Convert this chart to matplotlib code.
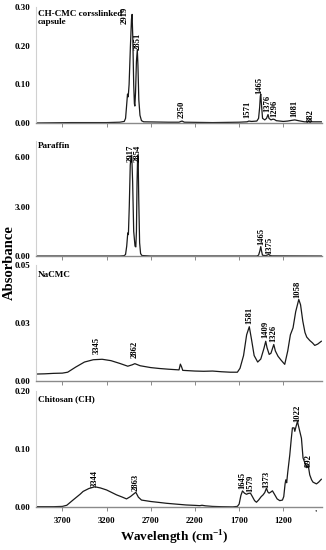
import matplotlib
matplotlib.use('Agg')
import numpy as np
import matplotlib.pyplot as plt

plt.rcParams['font.family'] = ['Liberation Serif', 'DejaVu Serif']
plt.rcParams['font.weight'] = 'bold'
plt.rcParams['mathtext.fontset'] = 'custom'
plt.rcParams['mathtext.rm'] = 'Liberation Serif:bold'
plt.rcParams['mathtext.bf'] = 'Liberation Serif:bold'

# CH-CMC crosslinked capsule
cap_w = [4000, 3600, 3200, 3050, 3000, 2985, 2975, 2963, 2955, 2945, 2930, 2918, 2911, 2903,
         2893, 2885, 2880, 2872, 2862, 2852, 2845, 2835, 2822, 2805, 2780, 2500, 2380, 2360,
         2345, 2320, 2000, 1700, 1610, 1590, 1560, 1500, 1480, 1468, 1460, 1455, 1448, 1435,
         1410, 1390, 1373, 1362, 1340, 1316, 1300, 1280, 1200, 1150, 1100, 1070, 1030, 960,
         920, 895, 870, 770]
cap_a = [0.000, 0.001, 0.001, 0.002, 0.004, 0.012, 0.040, 0.075, 0.068, 0.100, 0.200, 0.270,
         0.282, 0.220, 0.100, 0.050, 0.044, 0.080, 0.160, 0.190, 0.150, 0.060, 0.020, 0.006,
         0.003, 0.002, 0.002, 0.004, 0.005, 0.002, 0.001, 0.002, 0.003, 0.005, 0.004, 0.005,
         0.012, 0.040, 0.070, 0.075, 0.050, 0.012, 0.008, 0.012, 0.022, 0.012, 0.008, 0.010,
         0.009, 0.006, 0.004, 0.005, 0.007, 0.008, 0.006, 0.003, 0.003, 0.005, 0.003, 0.003]

# Paraffin
par_w = [4000, 3050, 3000, 2985, 2972, 2960, 2953, 2943, 2932, 2922, 2915, 2905, 2893, 2878,
         2869, 2862, 2855, 2848, 2843, 2836, 2826, 2815, 2800, 2700, 1500, 1480, 1466, 1455,
         1448, 1436, 1400, 1378, 1365, 1355, 1330, 770]
par_a = [0, 0, 0.02, 0.1, 0.6, 1.4, 1.3, 3.0, 5.5, 6.1, 6.1, 4.5, 1.5, 0.6, 0.55, 1.5, 4.5,
         6.1, 6.1, 3.5, 0.8, 0.15, 0.03, 0, 0, 0.05, 0.3, 0.57, 0.35, 0.05, 0.02, 0.06, 0.12,
         0.04, 0.01, 0]

# NaCMC
cmc_w = [4000, 3900, 3800, 3700, 3640, 3550, 3450, 3350, 3250, 3150, 3050, 2960, 2910, 2880,
         2820, 2700, 2600, 2500, 2380, 2365, 2352, 2338, 2200, 2100, 2000, 1900, 1800, 1720,
         1690, 1650, 1615, 1585, 1560, 1530, 1490, 1455, 1420, 1399, 1385, 1360, 1340, 1308,
         1290, 1260, 1225, 1184, 1150, 1120, 1090, 1060, 1025, 1005, 980, 955, 935, 900, 870,
         844, 810, 770]
cmc_a = [0.0030, 0.0031, 0.0033, 0.0034, 0.0038, 0.0060, 0.0082, 0.0092, 0.0094, 0.0088,
         0.0076, 0.0064, 0.0070, 0.0075, 0.0066, 0.0058, 0.0054, 0.0051, 0.0048, 0.0073,
         0.0062, 0.0046, 0.0043, 0.0042, 0.0043, 0.0040, 0.0038, 0.0038, 0.0055, 0.0110,
         0.0200, 0.0235, 0.0180, 0.0110, 0.0082, 0.0095, 0.0140, 0.0172, 0.0145, 0.0115,
         0.0120, 0.0158, 0.0130, 0.0107, 0.0090, 0.0072, 0.0130, 0.0200, 0.0230, 0.0300,
         0.0353, 0.0330, 0.0260, 0.0210, 0.0190, 0.0175, 0.0165, 0.0154, 0.0160, 0.0172]

# Chitosan
chi_w = [4000, 3800, 3700, 3650, 3580, 3500, 3465, 3400, 3333, 3270, 3200, 3140, 3087, 3020,
         2974, 2930, 2869, 2840, 2805, 2700, 2600, 2522, 2400, 2300, 2200, 2145, 2120, 2080,
         2000, 1900, 1772, 1720, 1700, 1680, 1662, 1640, 1617, 1595, 1572, 1550, 1525, 1504,
         1480, 1450, 1429, 1410, 1391, 1375, 1361, 1340, 1323, 1300, 1270, 1240, 1210, 1195,
         1180, 1172, 1162, 1150, 1127, 1110, 1097, 1078, 1070, 1055, 1040, 1020, 995, 977,
         960, 946, 935, 918, 901, 880, 864, 825, 800, 770]
chi_a = [0.0005, 0.0005, 0.001, 0.003, 0.012, 0.022, 0.027, 0.032, 0.035, 0.033, 0.0295,
         0.025, 0.021, 0.017, 0.014, 0.018, 0.0255, 0.017, 0.012, 0.0095, 0.0078, 0.0064,
         0.0048, 0.0035, 0.0028, 0.0023, 0.003, 0.002, 0.001, 0.0005, 0.0002, 0.001, 0.005,
         0.020, 0.0278, 0.024, 0.022, 0.0235, 0.024, 0.018, 0.011, 0.0082, 0.012, 0.018,
         0.021, 0.025, 0.0325, 0.026, 0.024, 0.026, 0.028, 0.022, 0.014, 0.011, 0.012, 0.018,
         0.040, 0.047, 0.042, 0.060, 0.090, 0.118, 0.137, 0.137, 0.131, 0.140, 0.148, 0.135,
         0.119, 0.085, 0.078, 0.073, 0.068, 0.072, 0.0556, 0.047, 0.043, 0.040, 0.043, 0.048]

# peak labels: (text, x, y bottom of label)
cap_peaks = [('2919', 2990, 0.256), ('2851', 2850, 0.19), ('2350', 2349, 0.013),
             ('1571', 1602, 0.013), ('1465', 1467, 0.076), ('1376', 1380, 0.029),
             ('1296', 1300, 0.016), ('1081', 1071, 0.016), ('882', 890, 0.003)]
par_peaks = [('2917', 2929, 5.7), ('2854', 2846, 5.7), ('1465', 1447, 0.67), ('1375', 1353, 0.12)]
cmc_peaks = [('3345', 3313, 0.0115), ('2862', 2880, 0.0098), ('1581', 1580, 0.0248),
             ('1409', 1402, 0.0184), ('1326', 1308, 0.0167), ('1058', 1040, 0.0359)]
chi_peaks = [('3344', 3333, 0.0348), ('2863', 2869, 0.0278), ('1645', 1659, 0.0313),
             ('1579', 1572, 0.026), ('1373', 1391, 0.033), ('1022', 1045, 0.148),
             ('892', 912, 0.0696)]

panels = [
    ('CH-CMC corsslinked\ncapsule', cap_w, cap_a, cap_peaks, (0, 0.30),
     [0, 0.1, 0.2, 0.3], ['0.00', '0.10', '0.20', '0.30'], 0.7764, 0.98),
    ('Paraffin', par_w, par_a, par_peaks, (0, 7.0),
     [0, 3, 6], ['0.00', '3.00', '6.00'], 0.5345, 0.99),
    ('NaCMC', cmc_w, cmc_a, cmc_peaks, (0, 0.05),
     [0, 0.025, 0.05], ['0.00', '0.03', '0.05'], 0.3073, 0.95),
    ('Chitosan (CH)', chi_w, chi_a, chi_peaks, (0, 0.20),
     [0, 0.1, 0.2], ['0.00', '0.10', '0.20'], 0.0782, 0.97),
]

xticks = [3700, 3200, 2700, 2200, 1700, 1200]

fig = plt.figure(figsize=(3.26, 5.5), dpi=100)

axes = []
for i, (name, w, a, peaks, ylim, yt, ytl, bottom, ty) in enumerate(panels):
    ax = fig.add_axes([0.110, bottom, 0.877, 0.210])
    ax.plot(w, a, color='#1a1a1a', linewidth=0.9)
    ax.set_xlim(4000, 765)
    ax.set_ylim(*ylim)
    ax.set_yticks(yt)
    ax.set_yticklabels(ytl)
    ax.set_xticks(xticks)
    for s in ['top', 'right']:
        ax.spines[s].set_visible(False)
    ax.spines['left'].set_color('#d0d0d0')
    ax.spines['left'].set_linewidth(0.8)
    ax.spines['bottom'].set_color('#8a8a8a')
    ax.spines['bottom'].set_linewidth(1.0)
    ax.tick_params(axis='y', length=0, pad=4, labelsize=6.5)
    ax.tick_params(axis='x', length=3, width=0.7, color='#8a8a8a', labelsize=6.3, pad=4)
    if i < 3:
        ax.tick_params(axis='x', labelbottom=False)
    for lab in ax.get_xticklabels() + ax.get_yticklabels():
        lab.set_fontweight('bold')
    ax.text(0.008, ty, name, transform=ax.transAxes, ha='left', va='top',
            fontsize=6.6, fontweight='bold', linespacing=1.1)
    for txt, px, py in peaks:
        ax.text(px, py, txt, rotation=90, ha='center', va='bottom',
                fontsize=6.2, fontweight='bold')
    axes.append(ax)

axes[-1].text(833, -0.006, "'", ha='center', va='top', fontsize=6, fontweight='bold')

fig.text(0.028, 0.522, 'Absorbance', rotation=90, ha='center', va='center',
         fontsize=10.5, fontweight='bold')
fig.text(0.535, 0.022, 'Wavelength (cm$^{\\mathbf{-1}}$)', ha='center', va='center',
         fontsize=9.5, fontweight='bold')

fig.savefig('out.png', dpi=100)
